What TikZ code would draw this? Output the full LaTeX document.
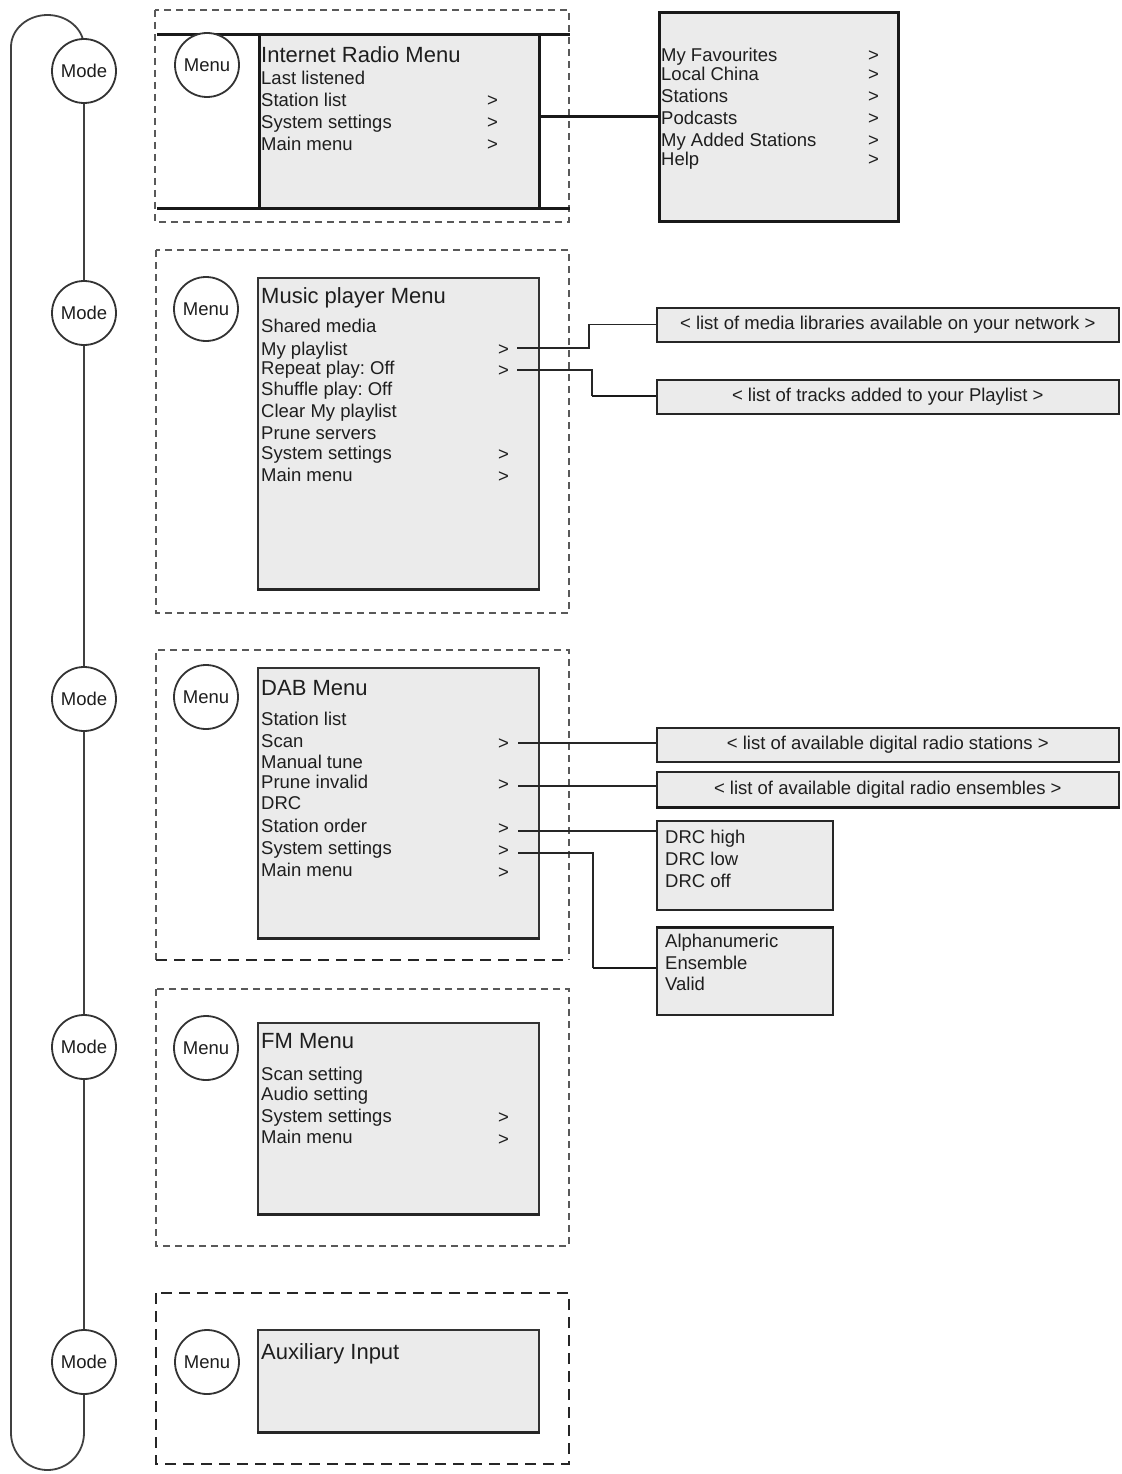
\documentclass[tikz,border=0pt]{standalone}
\usepackage{fontspec}
\setmainfont{Liberation Sans}
\usetikzlibrary{calc}
\definecolor{scrgray}{HTML}{EBEBEB}
\definecolor{ink}{HTML}{1E1E1E}
\newcommand\itemfont{\fontsize{18.5}{22}\selectfont}
\newcommand\hdrfont{\fontsize{22}{26}\selectfont}
\frenchspacing
\begin{document}
\begin{tikzpicture}[x=1pt,y=-1pt,
  roundbtn/.style={circle, draw=black!80, line width=1.8pt, fill=white, minimum size=64pt, inner sep=0pt, font=\itemfont, text=ink},
  secbox/.style={draw=black!65, line width=1.3pt, dash pattern=on 7pt off 5pt},
  secboxthick/.style={draw=black!85, line width=2.4pt, dash pattern=on 11pt off 7pt},
  heavy/.style={draw=black!90, line width=3pt},
  scr/.style={draw=black!80, line width=1.5pt, fill=scrgray},
  subbox/.style={draw=black!85, line width=1.6pt, fill=scrgray, inner sep=0pt, font=\itemfont, text=ink},
  lbl/.style={anchor=base west, inner sep=0pt, font=\itemfont, text=ink},
  hdr/.style={anchor=base west, inner sep=0pt, font=\hdrfont, text=ink},
  link/.style={draw=black!85, line width=1.3pt},
  thicklink/.style={draw=black!90, line width=2.6pt},
  loopline/.style={draw=black!75, line width=1.8pt}]
\useasboundingbox (0,0) rectangle (1121,1474);

% ---------- mode loop ----------
\draw[loopline] (84,47) arc[start angle=0,end angle=180,x radius=36.5pt,y radius=32pt]
  -- (11,1433) arc[start angle=180,end angle=360,x radius=36.5pt,y radius=37pt] -- cycle;
\node[roundbtn] (mode1) at (84,71) {Mode};
\node[roundbtn] (mode2) at (84,313) {Mode};
\node[roundbtn] (mode3) at (84,699) {Mode};
\node[roundbtn] (mode4) at (84,1047) {Mode};
\node[roundbtn] (mode5) at (84,1362) {Mode};

% ---------- Internet radio ----------
\draw[secbox] (155,10) rectangle (569,222);
\fill[scrgray] (259,35) rectangle (539,208);
\draw[heavy] (157,35) -- (570,35);
\draw[heavy] (157,208) -- (570,208);
\draw[heavy] (259,35) -- (259,208);
\draw[heavy] (539,35) -- (539,208);
\node[roundbtn] (menu1) at (207,65) {Menu};
\node[hdr] (ir0) at (261,63) {Internet Radio Menu};
\node[lbl] (ir1) at (261,85) {Last listened};
\node[lbl] (ir2) at (261,107) {Station list};
\node[lbl] (ir3) at (261,129) {System settings};
\node[lbl] (ir4) at (261,151) {Main menu};
\node[lbl] (ir2g) at (487,107) {>};
\node[lbl] (ir3g) at (487,129) {>};
\node[lbl] (ir4g) at (487,151) {>};
\node[subbox, draw=black!90, line width=3pt, anchor=north west, minimum width=239pt, minimum height=209pt] (irsub) at (658,11) {};
\node[lbl] (irs1) at (661,62) {My Favourites};
\node[lbl] (irs2) at (661,81) {Local China};
\node[lbl] (irs3) at (661,103) {Stations};
\node[lbl] (irs4) at (661,125) {Podcasts};
\node[lbl] (irs5) at (661,147) {My Added Stations};
\node[lbl] (irs6) at (661,166) {Help};
\foreach \yy/\nn in {62/1,81/2,103/3,125/4,147/5,166/6}
  \node[lbl] (irsg\nn) at (868,\yy) {>};
\coordinate (irout) at (539,117);
\draw[heavy] (irout) -- (irout -| irsub.west);

% ---------- Music player ----------
\draw[secbox] (156,250) rectangle (569,613);
\node[scr, anchor=north west, minimum width=281pt, minimum height=311pt] (mpscr) at (257,277) {};
\draw[line width=2.6pt, black!85] (mpscr.south west) -- (mpscr.south east);
\node[roundbtn] (menu2) at (206,309) {Menu};
\node[hdr] (mp0) at (261,303) {Music player Menu};
\node[lbl] (mp1) at (261,332) {Shared media};
\node[lbl] (mp2) at (261,355) {My playlist};
\node[lbl] (mp3) at (261,374) {Repeat play: Off};
\node[lbl] (mp4) at (261,395) {Shuffle play: Off};
\node[lbl] (mp5) at (261,417) {Clear My playlist};
\node[lbl] (mp6) at (261,439) {Prune servers};
\node[lbl] (mp7) at (261,459) {System settings};
\node[lbl] (mp8) at (261,481) {Main menu};
\node[lbl] (mp2g) at (498,355) {>};
\node[lbl] (mp3g) at (498,376) {>};
\node[lbl] (mp7g) at (498,460) {>};
\node[lbl] (mp8g) at (498,482) {>};
\node[subbox, anchor=north west, minimum width=462pt, minimum height=34pt] (mpl1) at (656,307) {< list of media libraries available on your network >};
\node[subbox, anchor=north west, minimum width=462pt, minimum height=34pt] (mpl2) at (656,379) {< list of tracks added to your Playlist >};
\coordinate (mpo1) at (517,348);
\coordinate (mpo2) at (517,370);
\coordinate (mpk2) at (592,396);
\draw[link] (mpo1) -- (589,348) |- (mpl1.west);
\draw[link] (mpo2) -- (592,370) -- (mpk2);
\draw[thicklink] (mpk2) -- (mpk2 -| mpl2.west);

% ---------- DAB ----------
\draw[secbox] (156,960) -- (156,650) -- (569,650) -- (569,960);
\draw[secboxthick] (156,960) -- (569,960);
\node[scr, anchor=north west, minimum width=281pt, minimum height=270pt] (dabscr) at (257,667) {};
\draw[line width=2.6pt, black!85] (dabscr.south west) -- (dabscr.south east);
\node[roundbtn] (menu3) at (206,697) {Menu};
\node[hdr] (dab0) at (261,695) {DAB Menu};
\node[lbl] (dab1) at (261,725) {Station list};
\node[lbl] (dab2) at (261,747) {Scan};
\node[lbl] (dab3) at (261,768) {Manual tune};
\node[lbl] (dab4) at (261,788) {Prune invalid};
\node[lbl] (dab5) at (261,809) {DRC};
\node[lbl] (dab6) at (261,832) {Station order};
\node[lbl] (dab7) at (261,854) {System settings};
\node[lbl] (dab8) at (261,876) {Main menu};
\node[lbl] (dab2g) at (498,749) {>};
\node[lbl] (dab4g) at (498,790) {>};
\node[lbl] (dab6g) at (498,834) {>};
\node[lbl] (dab7g) at (498,856) {>};
\node[lbl] (dab8g) at (498,878) {>};
\node[subbox, anchor=north west, minimum width=462pt, minimum height=34pt] (dabl1) at (656,727) {< list of available digital radio stations >};
\node[subbox, anchor=north west, minimum width=462pt, minimum height=35pt] (dabl2) at (656,771) {< list of available digital radio ensembles >};
\draw[line width=2.6pt, black!90] (dabl2.south west) -- (dabl2.south east);
\node[subbox, anchor=north west, minimum width=176pt, minimum height=89pt] (drcbox) at (656,820) {};
\node[lbl] (drc1) at (665,843) {DRC high};
\node[lbl] (drc2) at (665,865) {DRC low};
\node[lbl] (drc3) at (665,887) {DRC off};
\node[subbox, anchor=north west, minimum width=176pt, minimum height=87pt] (ordbox) at (656,927) {};
\draw[line width=2.6pt, black!90] (ordbox.north west) -- (ordbox.north east);
\node[lbl] (ord1) at (665,947) {Alphanumeric};
\node[lbl] (ord2) at (665,969) {Ensemble};
\node[lbl] (ord3) at (665,990) {Valid};
\coordinate (dabo1) at (518,743);
\coordinate (dabo2) at (518,786);
\coordinate (dabo3) at (518,831);
\coordinate (dabo4) at (518,853);
\coordinate (dabk4) at (593,968);
\draw[link] (dabo1) -- (dabo1 -| dabl1.west);
\draw[link] (dabo2) -- (dabo2 -| dabl2.west);
\draw[link] (dabo3) -- (dabo3 -| drcbox.west);
\draw[link] (dabo4) -- (593,853) -- (dabk4);
\draw[thicklink] (dabk4) -- (dabk4 -| ordbox.west);

% ---------- FM ----------
\draw[secbox] (156,989) rectangle (569,1246);
\node[scr, anchor=north west, minimum width=281pt, minimum height=191pt] (fmscr) at (257,1022) {};
\draw[line width=2.6pt, black!85] (fmscr.south west) -- (fmscr.south east);
\node[roundbtn] (menu4) at (206,1048) {Menu};
\node[hdr] (fm0) at (261,1048) {FM Menu};
\node[lbl] (fm1) at (261,1080) {Scan setting};
\node[lbl] (fm2) at (261,1100) {Audio setting};
\node[lbl] (fm3) at (261,1122) {System settings};
\node[lbl] (fm4) at (261,1143) {Main menu};
\node[lbl] (fm3g) at (498,1123) {>};
\node[lbl] (fm4g) at (498,1145) {>};

% ---------- Aux ----------
\draw[secboxthick] (156,1293) rectangle (569,1464);
\node[scr, anchor=north west, minimum width=281pt, minimum height=102pt] (auxscr) at (257,1329) {};
\draw[line width=2.6pt, black!85] (auxscr.south west) -- (auxscr.south east);
\node[roundbtn] (menu5) at (207,1362) {Menu};
\node[hdr] (aux0) at (261,1359) {Auxiliary Input};
\end{tikzpicture}
\end{document}
